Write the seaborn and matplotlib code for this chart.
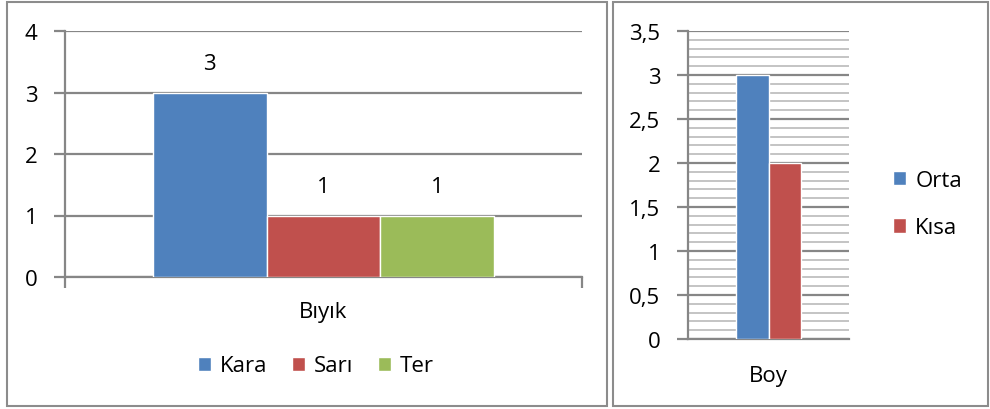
import matplotlib
matplotlib.use("Agg")
import matplotlib.pyplot as plt
import seaborn as sns
import pandas as pd
from matplotlib.patches import Rectangle, Patch
from matplotlib.ticker import FixedLocator, MultipleLocator

# ---- data ----
left_category = ["Bıyık"]
left_series = ["Kara", "Sarı", "Ter"]
left_values = [3, 1, 1]
left_yticks = [0, 1, 2, 3, 4]
left_yticklabels = ["0", "1", "2", "3", "4"]

right_category = ["Boy"]
right_series = ["Orta", "Kısa"]
right_values = [3, 2]
right_yticks = [0, 0.5, 1, 1.5, 2, 2.5, 3, 3.5]
right_yticklabels = ["0", "0,5", "1", "1,5", "2", "2,5", "3", "3,5"]

colors = ["#4F81BD", "#C0504D", "#9BBB59"]

sns.set_theme(style="white")
plt.rcParams["font.family"] = ["Open Sans", "DejaVu Sans"]
plt.rcParams["text.color"] = "black"
FS = 16
W, H = 990, 410
fig = plt.figure(figsize=(W / 100, H / 100), dpi=100)

def fx(px):
    return px / W

def fy(py):
    return 1 - py / H

# panel borders
for (x0, y0, x1, y1) in [(7, 3, 607, 407), (613, 3, 988, 407)]:
    fig.patches.append(Rectangle((fx(x0), fy(y1)), fx(x1 - x0), (y1 - y0) / H,
                                 transform=fig.transFigure, fill=False,
                                 edgecolor="#8c8c8c", linewidth=1.5))

grid_major = "#868686"
grid_minor = "#bfbfbf"

# ---- left chart ----
axL = fig.add_axes([fx(65), fy(278), fx(582 - 65), (278 - 32) / H])
dfL = pd.DataFrame({"cat": left_category * len(left_series),
                    "series": left_series, "value": left_values})
sns.barplot(data=dfL, x="cat", y="value", hue="series", hue_order=left_series,
            palette=colors[:3], width=0.66, gap=0, ax=axL, legend=False,
            saturation=1, edgecolor="white", linewidth=1, zorder=3)
axL.set_xlim(-0.5, 0.5)
axL.set_ylim(0, 4)
axL.yaxis.set_major_locator(FixedLocator(left_yticks))
axL.set_yticklabels(left_yticklabels, fontsize=FS)
axL.yaxis.grid(True, color=grid_major, linewidth=1.6, zorder=0)
axL.set_axisbelow(True)
for s in ["top", "right"]:
    axL.spines[s].set_visible(False)
for s in ["left", "bottom"]:
    axL.spines[s].set_color(grid_major)
    axL.spines[s].set_linewidth(1.6)
axL.tick_params(axis="y", which="major", length=8, width=1.6, color=grid_major,
                pad=12, left=True, labelcolor="black")
axL.set_xticks([0])
axL.set_xticklabels(left_category, fontsize=FS)
axL.xaxis.set_minor_locator(FixedLocator([-0.5, 0.5]))
axL.tick_params(axis="x", which="major", length=0, pad=17, labelcolor="black")
axL.tick_params(axis="x", which="minor", length=8, width=1.6, color=grid_major,
                bottom=True, direction="out")
axL.set_xlabel("")
axL.set_ylabel("")
for c in axL.containers:
    axL.bar_label(c, fmt="%d", padding=13, fontsize=FS, color="black")

handlesL = [Patch(facecolor=colors[i], edgecolor="white", label=left_series[i])
            for i in range(len(left_series))]
fig.legend(handles=handlesL, loc="center", bbox_to_anchor=(fx(316), fy(367)),
           ncol=3, frameon=False, fontsize=FS, handlelength=0.6,
           handleheight=0.6, handletextpad=0.4, columnspacing=1.1,
           borderpad=0, borderaxespad=0)

# ---- right chart ----
axR = fig.add_axes([fx(688), fy(340), fx(849 - 688), (340 - 32) / H])
dfR = pd.DataFrame({"cat": right_category * len(right_series),
                    "series": right_series, "value": right_values})
sns.barplot(data=dfR, x="cat", y="value", hue="series", hue_order=right_series,
            palette=colors[:2], width=0.4, gap=0, ax=axR, legend=False,
            saturation=1, edgecolor="white", linewidth=1, zorder=3)
axR.set_xlim(-0.5, 0.5)
axR.set_ylim(0, 3.5)
axR.yaxis.set_major_locator(FixedLocator(right_yticks))
axR.set_yticklabels(right_yticklabels, fontsize=FS)
axR.yaxis.set_minor_locator(MultipleLocator(0.1))
axR.yaxis.grid(True, which="minor", color=grid_minor, linewidth=1.3, zorder=0)
axR.yaxis.grid(True, which="major", color=grid_major, linewidth=1.6, zorder=0)
axR.set_axisbelow(True)
for s in ["top", "right"]:
    axR.spines[s].set_visible(False)
for s in ["left", "bottom"]:
    axR.spines[s].set_color(grid_major)
    axR.spines[s].set_linewidth(1.6)
axR.tick_params(axis="y", which="major", length=8, width=1.6, color=grid_major,
                pad=12, left=True, labelcolor="black")
axR.tick_params(axis="y", which="minor", length=0)
axR.set_xticks([0])
axR.set_xticklabels(right_category, fontsize=FS)
axR.tick_params(axis="x", which="major", length=0, pad=19, labelcolor="black")
axR.set_xlabel("")
axR.set_ylabel("")

handlesR = [Patch(facecolor=colors[i], edgecolor="white", label=right_series[i])
            for i in range(len(right_series))]
fig.legend(handles=handlesR, loc="center left", bbox_to_anchor=(fx(893), fy(205)),
           ncol=1, frameon=False, fontsize=FS, handlelength=0.6,
           handleheight=0.6, handletextpad=0.4, labelspacing=1.2,
           borderpad=0, borderaxespad=0)

fig.savefig("out.png", dpi=100)
